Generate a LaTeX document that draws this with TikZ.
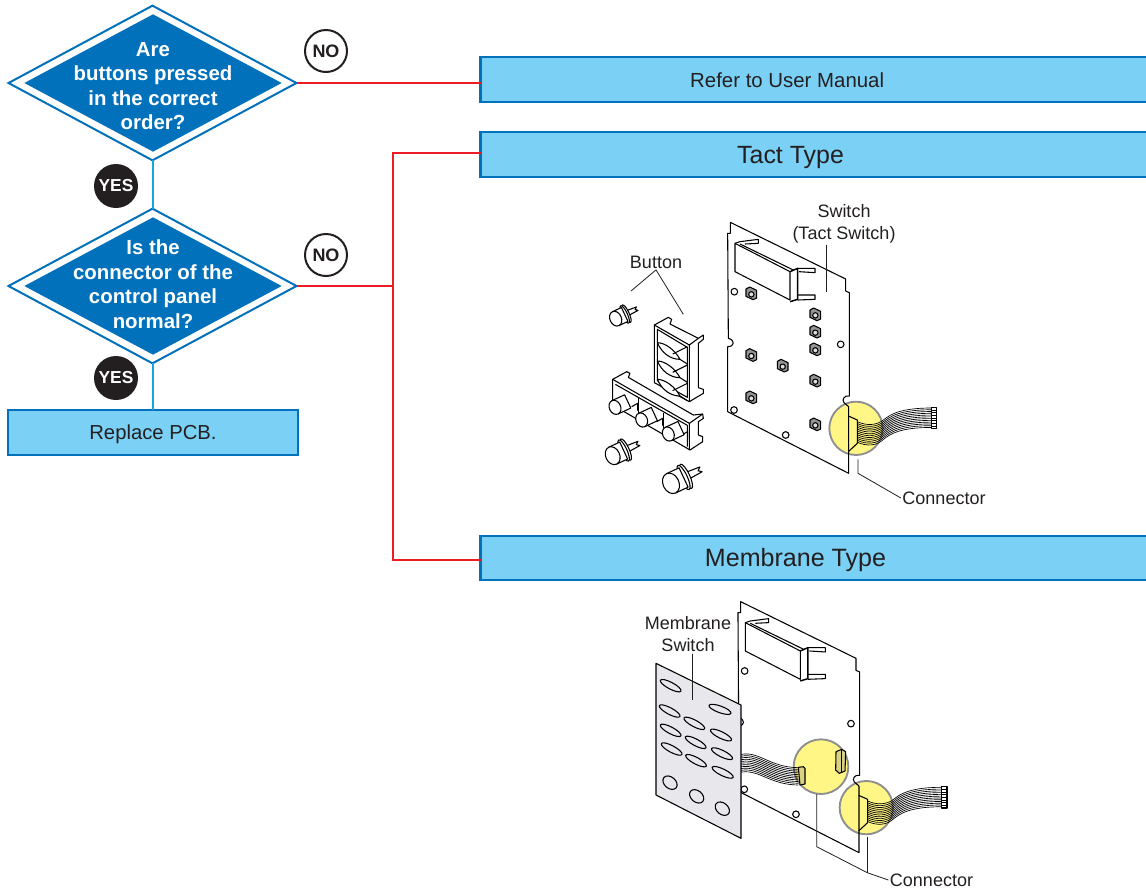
\documentclass[tikz,border=0pt]{standalone}
\usepackage{fontspec}
\setmainfont{Liberation Sans}
\usetikzlibrary{shapes.geometric}

\definecolor{flowblue}{HTML}{0271BC}
\definecolor{boxblue}{HTML}{7AD0F5}
\definecolor{linkcyan}{HTML}{15A6E0}
\definecolor{linkred}{HTML}{ED1C24}
\definecolor{badgeblack}{HTML}{231F20}
\definecolor{spotyellow}{HTML}{FFF685}
\definecolor{spotgray}{HTML}{8E8E8E}
\definecolor{sheetgray}{HTML}{E8E7EC}

\tikzset{
  questionrim/.style={diamond, draw=flowblue, line width=1.5pt, fill=white, aspect=1.86,
    inner sep=0pt, outer sep=0pt, minimum width=216pt, minimum height=116pt},
  questionfill/.style={diamond, fill=flowblue, aspect=1.86, inner sep=0pt, outer sep=0pt,
    minimum width=193pt, minimum height=103pt},
  questiontext/.style={text=white, align=center, inner sep=0pt,
    font=\fontsize{15.3pt}{18.4pt}\bfseries\selectfont},
  stepbox/.style={draw=flowblue, line width=1.7pt, fill=boxblue, inner sep=0pt, outer sep=0pt,
    minimum height=33.5pt, text=badgeblack},
  nobadge/.style={circle, draw=badgeblack, line width=1.5pt, fill=white, inner sep=0pt,
    minimum size=31.5pt, text=badgeblack, font=\fontsize{13.5pt}{16pt}\bfseries\selectfont},
  yesbadge/.style={circle, fill=badgeblack, inner sep=0pt, minimum size=33pt, text=white,
    font=\fontsize{13pt}{16pt}\bfseries\selectfont},
  yeslink/.style={draw=linkcyan, line width=1.5pt},
  nolink/.style={draw=linkred, line width=1.5pt},
  partlabel/.style={inner sep=1pt, align=center, text=badgeblack,
    font=\fontsize{13.5pt}{16.5pt}\selectfont},
  leader/.style={line width=0.6pt, draw=badgeblack},
  partline/.style={line width=0.8pt, draw=black, line join=round},
  cableline/.style={line width=0.5pt, draw=black},
}

% board, yellow spot and ribbon cable, in 1/3 px units
\newcommand{\pcbboard}{
  \fill[spotyellow] (798,715) circle (80);
  \draw[spotgray, line width=1.4pt] (798,715) circle (80);
  \draw[partline] (421,97) -- (767,267) -- (767,303) -- (778,308) -- (778,618)
    .. controls (762,615) and (755,630) .. (762,638) -- (776,650) -- (776,850) -- (413,665)
    -- (413,470) .. controls (435,470) and (435,450) .. (415,445) -- (413,130) -- (421,130) -- cycle;
  \draw[partline] (435,160) -- (600,245) -- (600,330) -- (435,245) -- cycle;
  \draw[partline] (435,160) -- (450,155) -- (505,148) -- (505,160) -- (465,162);
  \draw[partline] (450,162) -- (610,240);
  \draw[partline, line width=1.1pt] (600,245) -- (623,235) -- (623,328) -- (600,335);
  \draw[partline] (623,235) -- (675,235) -- (675,248) -- (627,245);
  \draw[partline] (623,315) -- (675,315) -- (675,328) -- (623,330);
  \foreach \hx/\hy in {433/305, 752/463, 432/660, 587/735}
    \draw[partline] (\hx,\hy) circle (10);
  \draw[partline] (775,678) -- (802,690) -- (802,760) -- (775,785);
  \foreach \i in {0,...,11}{
    \draw[cableline] (802,{695+5.6*\i}) .. controls (830,{708+5.6*\i}) and (860,{706+5.6*\i}) .. (880,{690+5.3*\i})
      .. controls (900,{674+5.3*\i}) and (930,{654+5.3*\i}) .. (1024,{654+5.3*\i});
  }
  \draw[partline, fill=white] (1024,652) -- (1040,652) -- (1040,716) -- (1024,716) -- cycle;
  \foreach \i in {1,...,7}
    \draw[cableline] (1026,{652+8*\i}) -- (1040,{652+8*\i});
}

% tact switch cube
\newcommand{\tactcube}[2]{
  \draw[partline, fill=gray!85] (#1-16,#2-13) -- (#1-5,#2-19) -- (#1+16,#2-9) -- (#1+16,#2+14)
    -- (#1+5,#2+19) -- (#1-16,#2+9) -- cycle;
  \draw[partline, fill=white!75!gray] (#1,#2+3) circle (8);
}

% button cap: x, y, size, with stem or not
\newcommand{\capstem}[3]{
  \begin{scope}[shift={(#1,#2)}, rotate=25, scale=#3]
    \draw[partline, fill=white] (32,-7) -- (62,-5) -- (56,0) -- (62,5) -- (32,7) -- cycle;
    \draw[partline, fill=white] (31,0) ellipse (7 and 25);
    \draw[partline, fill=white] (26,0) ellipse (7 and 25);
    \draw[partline, fill=white] (0,-20) -- (26,-20) -- (26,20) -- (0,20) -- cycle;
    \draw[partline, fill=white] (0,0) ellipse (15 and 20);
  \end{scope}
}
\newcommand{\capface}[2]{
  \begin{scope}[shift={(#1,#2)}, rotate=25]
    \draw[partline, fill=white] (0,-22) -- (42,-22) -- (42,22) -- (0,22) -- cycle;
    \draw[partline, fill=white] (0,0) ellipse (17 and 22);
  \end{scope}
}

\begin{document}
\begin{tikzpicture}[x=0.75pt, y=-0.75pt]
\useasboundingbox (0,0) rectangle (1146,890);

% flow
\node[questionrim] (q1) at (152.5,83) {};
\node[questionfill, label={[questiontext, yshift=-2.25pt]center:Are\\buttons pressed\\in the correct\\order?}] (q1core) at (153,83) {};
\node[questionrim] (q2) at (152.5,286) {};
\node[questionfill, label={[questiontext, yshift=1.5pt]center:Is the\\connector of the\\control panel\\normal?}] (q2core) at (153,286) {};
\node[stepbox, minimum width=217pt,
  label={[text=badgeblack, font=\fontsize{15.2pt}{18pt}\selectfont, yshift=-1.5pt]center:Replace PCB.}] (pcb) at (153,432.5) {};
\node[stepbox, minimum width=501pt,
  label={[text=badgeblack, font=\fontsize{15.3pt}{18pt}\selectfont, xshift=-20.5pt, yshift=-0.7pt]center:Refer to User Manual}] (manual) at (814.5,79.5) {};
\node[stepbox, minimum width=501pt,
  label={[text=badgeblack, font=\fontsize{18.7pt}{22pt}\selectfont, xshift=-18pt, yshift=-2.5pt]center:Tact Type}] (tact) at (814.5,154.5) {};
\node[stepbox, minimum width=501pt,
  label={[text=badgeblack, font=\fontsize{18.8pt}{22pt}\selectfont, xshift=-14.25pt, yshift=-1.5pt]center:Membrane Type}] (membrane) at (814.5,558) {};

\node[nobadge] (no1) at (326,51) {NO};
\node[nobadge] (no2) at (326,255) {NO};
\node[yesbadge] (yes1) at (116,186) {YES};
\node[yesbadge] (yes2) at (116,378) {YES};

\draw[yeslink] (q1.south) -- (q2.north);
\draw[yeslink] (q2.south) -- (pcb.north -| q2.south);
\draw[nolink] (q1.east) -- (q1.east -| manual.west);
\coordinate (fork) at (393,286);
\draw[nolink] (q2.east) -- (fork);
\draw[nolink] ([yshift=1.2pt]tact.west) -| (fork) |- ([yshift=-1.5pt]membrane.west);

% tact type drawing
\begin{scope}[shift={(590,190)}, x=0.25pt, y=-0.25pt]
  \pcbboard
  \foreach \sx/\sy in {484/310, 676/373, 676/425, 676/478, 484/495, 578/527, 676/572, 484/622, 676/703}{
    \tactcube{\sx}{\sy}
  }
\end{scope}

\begin{scope}[shift={(600,290)}, x=0.25pt, y=-0.25pt]
  % three key frame
  \draw[partline, fill=white] (163,105) -- (205,82) -- (215,88) -- (210,102) -- (295,145) -- (310,135) -- (310,148)
    -- (295,160) -- (295,293) -- (310,298) -- (310,310) -- (268,335) -- (163,278) -- cycle;
  \draw[partline] (163,105) -- (268,165) -- (268,335);
  \draw[partline] (268,165) -- (295,145);
  \draw[partline] (172,118) -- (262,172) -- (262,322) -- (172,272) -- cycle;
  \foreach \dy in {0,55,110}{
    \draw[partline, fill=white] (172,{158+\dy}) .. controls (195,{158+\dy}) and (225,{180+\dy}) .. (240,{208+\dy})
      .. controls (210,{208+\dy}) and (185,{188+\dy}) .. (172,{158+\dy});
    \draw[partline] (218,{192+\dy}) -- (262,{170+\dy});
    \draw[partline] (240,{208+\dy}) -- (262,{222+\dy});
  }
  % four key frame
  \draw[partline, fill=white] (38,268) -- (80,245) -- (90,250) -- (85,262) -- (280,375) -- (308,372) -- (310,385)
    -- (295,395) -- (295,435) -- (308,440) -- (308,455) -- (270,480) -- (38,345) -- cycle;
  \draw[partline] (38,268) -- (268,400) -- (268,480);
  \draw[partline] (268,400) -- (308,372);
  \draw[partline] (46,283) -- (262,406) -- (262,470);
  \foreach \vx/\vy in {115/325, 190/368}
    \draw[partline] (\vx,\vy) -- (\vx,{\vy+45});
  \foreach \ax/\ay in {95/350, 170/395, 245/435}{
    \draw[partline] (\ax,\ay) -- ({\ax+18},{\ay-10}) -- ({\ax+18},{\ay+12});
  }
  \capface{45}{352}
  \capface{125}{390}
  \capface{205}{432}
  % loose caps
  \capstem{47}{86}{1.15}
  \capstem{38}{497}{1.4}
  \capstem{213}{580}{1.6}
\end{scope}

\node[partlabel] (buttonlab) at (656,262) {Button};
\coordinate (buttontipa) at (631,291);
\coordinate (buttontipb) at (683.3,314.3);
\draw[leader] (buttontipa) -- (buttonlab.south) -- (buttontipb);
\node[partlabel] (switchlab) at (844,224) {Switch\\(Tact Switch)};
\coordinate (switchtip) at (826.7,291.7);
\draw[leader] (switchlab.south -| switchtip) -- (switchtip);
\node[partlabel] (connlab) at (944,498) {Connector};
\coordinate (connspot) at (858,459.3);
\draw[leader] (connspot) -- (858,473.3) -- (connlab.west);

% membrane type drawing
\begin{scope}[shift={(600.3,569.3)}, x=0.25pt, y=-0.25pt]
  \pcbboard
\end{scope}

\begin{scope}[shift={(630,590)}, x=0.25pt, y=-0.25pt]
  \fill[spotyellow] (573,530) circle (82);
  \draw[spotgray, line width=1.4pt] (573,530) circle (82);
  \foreach \i in {0,...,10}
    \draw[cableline] (325,{495+5.3*\i}) .. controls (385,{478+5.5*\i}) and (415,{532+5.2*\i}) .. (505,{533+5.2*\i});
  \draw[partline, fill=spotyellow!70!gray] (505,532) -- (520,530) -- (525,535) -- (525,582) -- (510,585) -- cycle;
  \draw[partline, fill=spotyellow!70!gray] (618,485) -- (635,478) -- (647,485) -- (645,543) -- (628,550) -- (617,540) -- cycle;
  \draw[partline] (635,478) -- (635,545);
  \draw[partline, fill=sheetgray] (78,220) -- (333,345) -- (333,745) -- (78,615) -- cycle;
  \foreach \ex/\ey/\ea/\eb/\et in {122/287/35/10/-28, 119/363/35/10/-28, 193/400/35/10/-28, 270/358/35/10/-20,
      122/421/35/10/-28, 197/457/35/10/-28, 273/435/35/10/-26, 125/477/35/10/-28, 198/512/35/10/-28,
      276/491/35/10/-26, 278/547/35/10/-26, 120/578/24/17/-40, 200/619/24/17/-40, 277/656/24/17/-40}
    \draw[partline, shift={(\ex,\ey)}, rotate=\et] (0,0) ellipse [x radius=\ea, y radius=\eb];
\end{scope}

\node[partlabel] (sheetlab) at (688,634.5) {Membrane\\Switch};
\coordinate (sheettip) at (692,700);
\draw[leader] (sheetlab.south -| sheettip) -- (sheettip);
\node[partlabel] (connlabb) at (931.5,880) {Connector};
\coordinate (spotleft) at (816.7,794);
\coordinate (spotright) at (867.3,836.7);
\draw[leader] (spotleft) -- (816.7,846.7) -- (867.3,872.7) -- (connlabb.west);
\draw[leader] (spotright) -- (867.3,872.7);
\end{tikzpicture}
\end{document}
